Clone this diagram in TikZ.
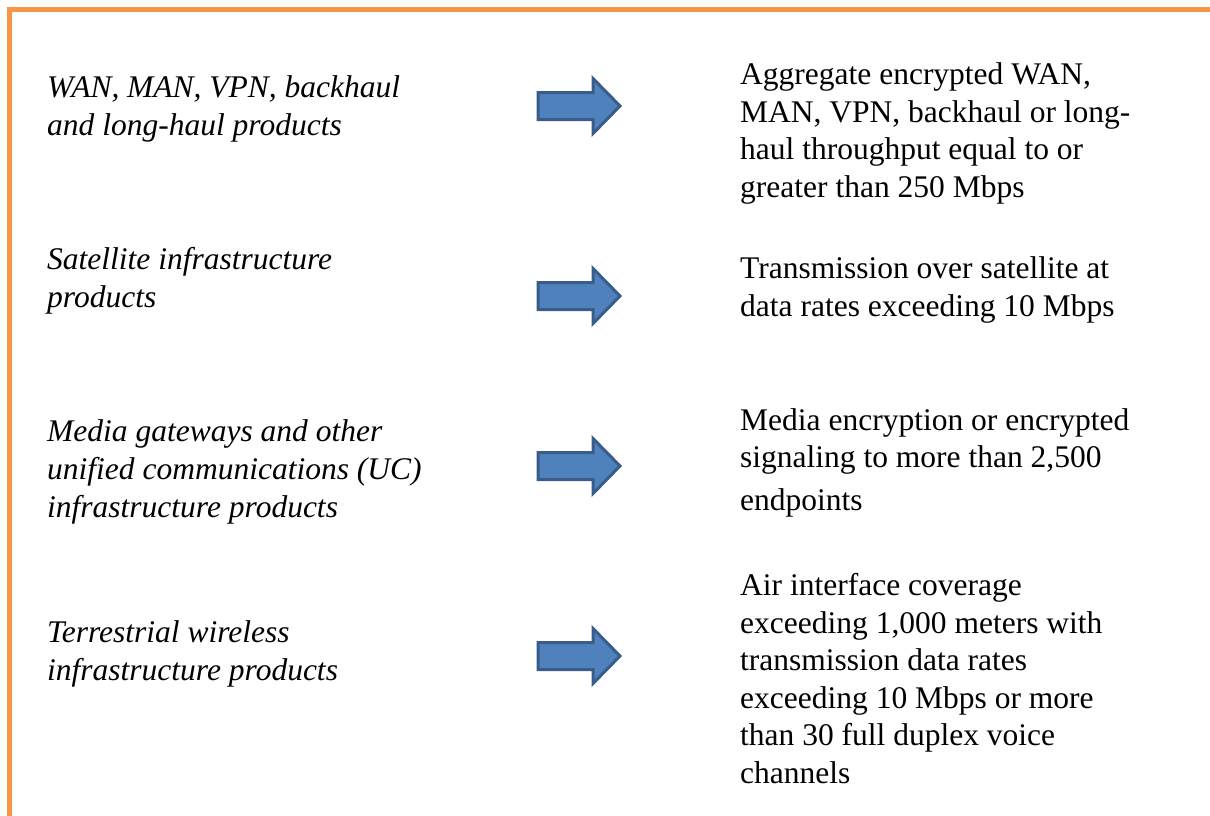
\documentclass[tikz,border=0pt]{standalone}
\usepackage{fontspec}
\setmainfont{Liberation Serif}
\definecolor{frameorange}{HTML}{F79646}
\definecolor{arrowfill}{HTML}{4F81BD}
\definecolor{arrowline}{HTML}{385D8A}

\begin{document}
\begin{tikzpicture}[x=1pt, y=-1pt,
    product/.style={anchor=base west, align=left, inner sep=0pt,
        font=\fontsize{31.5}{38}\selectfont\itshape},
    criterion/.style={anchor=base west, align=left, inner sep=0pt,
        font=\fontsize{31.5}{37.5}\selectfont},
    blockarrow/.style={fill=arrowfill, draw=arrowline, line width=3pt, line join=miter}]
    \useasboundingbox (0,0) rectangle (1210,816);
    % frame
    \draw [frameorange, line width=5pt] (9.5,816) -- (9.5,10) -- (1210,10);

    % product labels (placed by last baseline)
    \node [product] (wan) at (47,135) {WAN, MAN, VPN, backhaul\\and long-haul products};
    \node [product] (sat) at (47,307) {Satellite infrastructure\\products};
    \node [product] (media) at (47,517) {Media gateways and other\\unified communications (UC)\\infrastructure products};
    \node [product] (terr) at (47,680) {Terrestrial wireless\\infrastructure products};

    % threshold labels
    \node [criterion] (wanrate) at (740,197) {Aggregate encrypted WAN,\\MAN, VPN, backhaul or long-\\haul throughput equal to or\\greater than 250 Mbps};
    \node [criterion] (satrate) at (740,316) {Transmission over satellite at\\data rates exceeding 10 Mbps};
    \node [criterion] (mediarate) at (740,510) {Media encryption or encrypted\\signaling to more than 2,500\\[5pt]endpoints};
    \node [criterion] (terrrate) at (740,783) {Air interface coverage\\exceeding 1,000 meters with\\transmission data rates\\exceeding 10 Mbps or more\\than 30 full duplex voice\\channels};

    % block arrows
    \foreach \y in {106,296,466,656}
        \draw [blockarrow] (538,\y-13.5) -- (593,\y-13.5) -- (593,\y-27.5) -- (620,\y)
            -- (593,\y+27.5) -- (593,\y+13.5) -- (538,\y+13.5) -- cycle;
\end{tikzpicture}
\end{document}
